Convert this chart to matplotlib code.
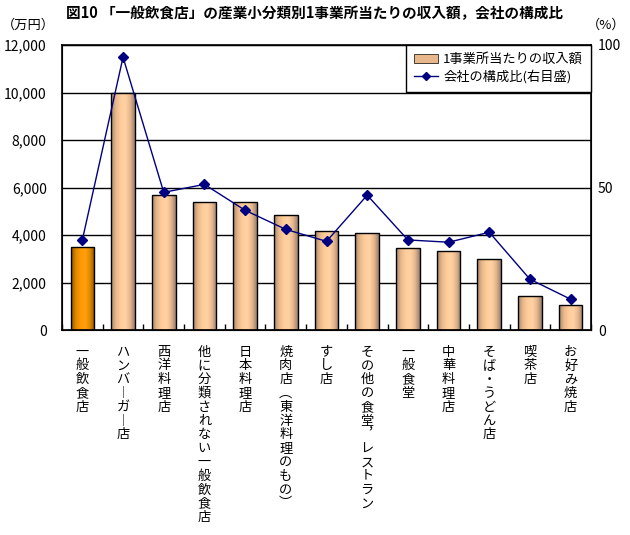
import matplotlib
matplotlib.use("Agg")
import matplotlib.pyplot as plt
import numpy as np
from matplotlib.colors import LinearSegmentedColormap

plt.rcParams['font.family'] = ['Noto Sans CJK JP', 'DejaVu Sans']

categories = [
    "一般飲食店", "ハンバ︱ガ︱店", "西洋料理店", "他に分類されない一般飲食店",
    "日本料理店", "焼肉店︵東洋料理のもの︶", "すし店", "その他の食堂︐レストラン",
    "一般食堂", "中華料理店", "そば・うどん店", "喫茶店", "お好み焼店",
]
income = [3500, 10000, 5700, 5400, 5400, 4830, 4150, 4070, 3440, 3310, 2980, 1420, 1040]
share = [31.6, 95.7, 48.3, 51.1, 42.0, 35.3, 31.1, 47.3, 31.6, 30.8, 34.3, 17.8, 10.8]
yticks_left = [0, 2000, 4000, 6000, 8000, 10000, 12000]
yticks_right = [0, 50, 100]

fig = plt.figure(figsize=(6.3, 5.35), dpi=100)
ax = fig.add_axes([62/630, 1-330/535, (591-62)/630, (330-45)/535])
x = np.arange(len(categories))

bars = ax.bar(x, income, width=0.58, facecolor='none', edgecolor='black', linewidth=1.0, zorder=3)
cm_peach = LinearSegmentedColormap.from_list('p', ['#A8866A', '#E8B88C', '#FFCC99', '#FFD2A4', '#E8B88C', '#9C8070'])
cm_orange = LinearSegmentedColormap.from_list('o', ['#8A5200', '#E08800', '#FF9900', '#FFA010', '#E08800', '#8A5200'])
grad = np.linspace(0, 1, 64).reshape(1, -1)
for i, b in enumerate(bars):
    x0, y0 = b.get_x(), b.get_y()
    w, h = b.get_width(), b.get_height()
    im = ax.imshow(grad, cmap=cm_orange if i == 0 else cm_peach, aspect='auto',
                   extent=(x0, x0 + w, y0, y0 + h), zorder=2, interpolation='bilinear')
    im.set_clip_path(b)

ax.set_xlim(-0.5, len(categories) - 0.5)
ax.set_ylim(0, 12000)
ax.set_yticks(yticks_left)
ax.set_yticklabels([f"{v:,}" for v in yticks_left], fontsize=10)
ax.tick_params(axis='y', length=0, pad=11)
ax.yaxis.grid(True, color='black', linewidth=1.0, zorder=1)
ax.set_axisbelow(True)
ax.set_xticks(np.arange(len(categories) + 1) - 0.5, minor=False)
ax.set_xticklabels([])
ax.tick_params(axis='x', direction='in', length=4, width=1.0)
for s in ax.spines.values():
    s.set_linewidth(1.2)

ax2 = ax.twinx()
ax2.set_ylim(0, 100)
ax2.set_yticks(yticks_right)
ax2.set_yticklabels([str(v) for v in yticks_right], fontsize=10)
ax2.tick_params(axis='y', length=0, pad=5)
line, = ax2.plot(x, share, color='#000080', linewidth=1.0, marker='D', markersize=5,
                 markerfacecolor='#000080', markeredgecolor='#000080', zorder=5)

# vertical category labels
for i, lab in enumerate(categories):
    ax.text(i, -0.055, "\n".join(lab), transform=ax.get_xaxis_transform(),
            ha='center', va='top', fontsize=9.5, linespacing=1.08)

from matplotlib.patches import Patch
from matplotlib.lines import Line2D
handles = [Patch(facecolor='#E8B88C', edgecolor='black', linewidth=0.5),
           Line2D([0], [0], color='#000080', marker='D', markersize=4, linewidth=1.0)]
leg = ax2.legend(handles, ["1事業所当たりの収入額", "会社の構成比(右目盛)"], loc='upper right',
                 bbox_to_anchor=(1.0, 1.0), borderaxespad=0, fontsize=9.5, frameon=True,
                 fancybox=False, edgecolor='black', framealpha=1, handlelength=1.8,
                 handletextpad=0.4, borderpad=0.6, labelspacing=0.3)
leg.get_frame().set_linewidth(1.0)

fig.text(0.5, 1 - 13/535, "図10 「一般飲食店」の産業小分類別1事業所当たりの収入額，会社の構成比",
         ha='center', va='center', fontsize=10.5, fontweight='bold')
fig.text(2/630, 1 - 25/535, "（万円）", ha='left', va='center', fontsize=9.5)
fig.text(625/630, 1 - 25/535, "（%）", ha='right', va='center', fontsize=9.5)

fig.savefig("out.png", dpi=100)
